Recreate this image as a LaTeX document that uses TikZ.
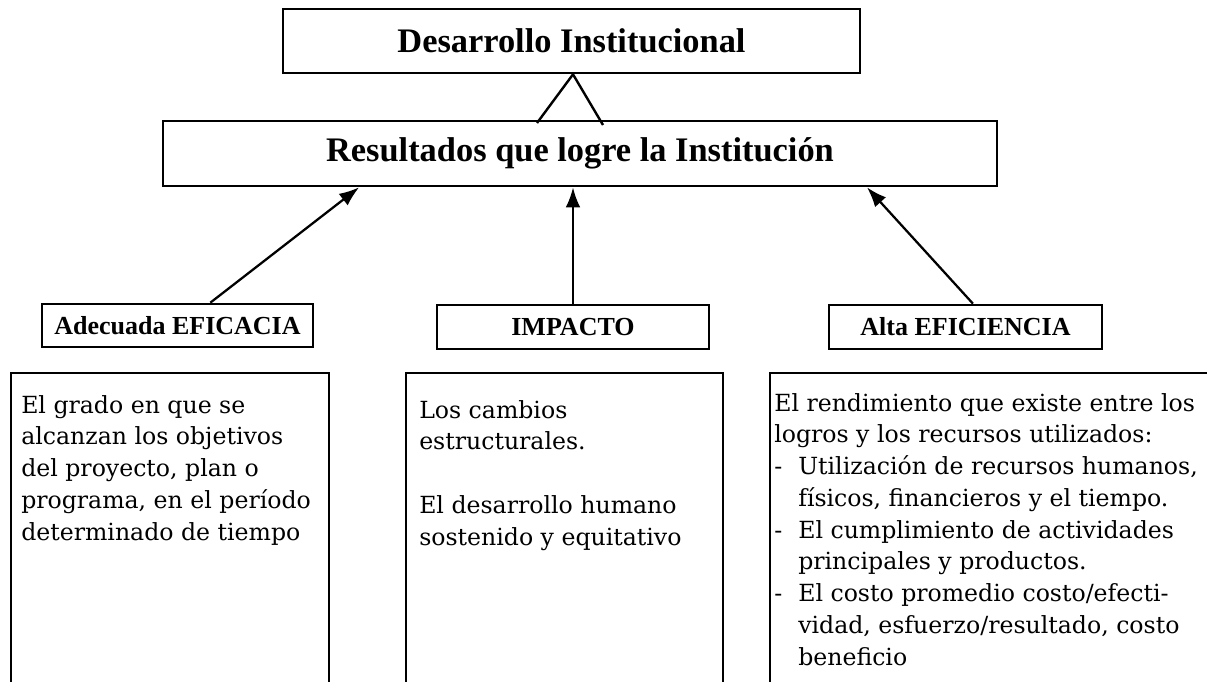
\documentclass[tikz,border=0pt]{standalone}
\usepackage{fontspec}
\setmainfont{DejaVu Serif}
\newfontfamily\titlefont{Liberation Serif}
\usetikzlibrary{arrows.meta,calc}

\begin{document}
\begin{tikzpicture}[x=0.75pt,y=-0.75pt,
    box/.style={draw,line width=2pt,inner sep=0pt},
    big/.style={font=\titlefont\bfseries\fontsize{25.8pt}{30pt}\selectfont},
    small/.style={font=\titlefont\bfseries\fontsize{19.5pt}{23pt}\selectfont},
    body/.style={font=\fontsize{17.7pt}{23.8pt}\selectfont,align=left,anchor=north west,inner sep=0pt},
    arr/.style={-{Latex[length=15pt,width=11pt]},line width=1.7pt}]
    \useasboundingbox (0,0) rectangle (1207,682);
    % upper level
    \node[box,big,minimum width=432.75pt,minimum height=48pt] (desarrollo) at (571.5,41) {Desarrollo Institucional};
    \node[box,big,minimum width=625.5pt,minimum height=48.75pt] (resultados) at (580,153.5) {Resultados que logre la Institución};
    \coordinate (pico) at ($(desarrollo.south)+(1.5,0)$);
    \coordinate (pie izq) at (537,123);
    \coordinate (pie der) at (603,125);
    \draw[line width=1.8pt] (pie izq) -- (pico) -- (pie der);
    % three criteria
    \node[box,small,minimum width=203.25pt,minimum height=32.25pt] (eficacia) at (177.5,325.5) {Adecuada EFICACIA};
    \node[box,small,minimum width=204pt,minimum height=33pt] (impacto) at (573,327) {IMPACTO};
    \node[box,small,minimum width=204.75pt,minimum height=33pt] (eficiencia) at (965.5,327) {Alta EFICIENCIA};
    \draw[arr] ($(eficacia.north west)!.62!(eficacia.north east)$) -- ($(resultados.south west)!.236!(resultados.south east)$);
    \draw[arr] (impacto.north) -- (impacto.north |- resultados.south);
    \draw[arr] ($(eficiencia.north west)!.527!(eficiencia.north east)$) -- ($(resultados.south west)!.843!(resultados.south east)$);
    % open boxes with the descriptions
    \draw[line width=2pt] (11,682) |- (329,373) -- (329,682)
        (406,682) |- (723,373) -- (723,682)
        (770,682) |- (1207,373);
    \node[body] (grado) at (21,395) {El grado en que se\\alcanzan los objetivos\\del proyecto, plan o\\programa, en el período\\determinado de tiempo};
    \node[body] (cambios) at (419,400) {Los cambios\\estructurales.\\[23.8pt]El desarrollo humano\\sostenido y equitativo};
    \node[body] (rendimiento) at (774,393) {El rendimiento que existe entre los\\logros y los recursos utilizados:\\
        \makebox[18pt][l]{-}Utilización de recursos humanos,\\\hspace*{18pt}físicos, financieros y el tiempo.\\
        \makebox[18pt][l]{-}El cumplimiento de actividades\\\hspace*{18pt}principales y productos.\\
        \makebox[18pt][l]{-}El costo promedio costo/efecti-\\\hspace*{18pt}vidad, esfuerzo/resultado, costo\\\hspace*{18pt}beneficio};
\end{tikzpicture}
\end{document}
